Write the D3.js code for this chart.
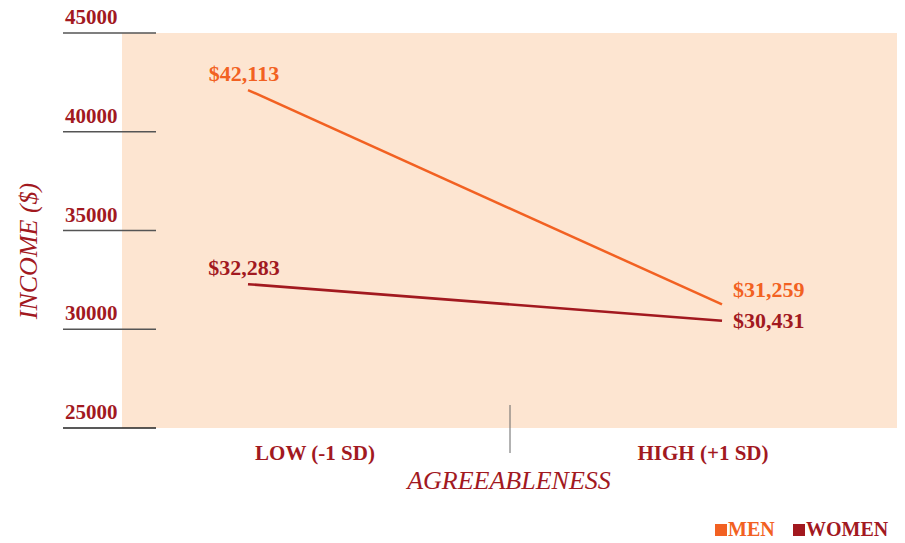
<!DOCTYPE html>
<html>
<head>
<meta charset="utf-8">
<script src="https://cdn.jsdelivr.net/npm/d3@7"></script>
<style>
  body { margin: 0; background: #fff; }
  text { font-family: "Liberation Serif", "Times New Roman", serif; }
</style>
</head>
<body>
<script>
// chart data
var categories = ['LOW (-1 SD)', 'HIGH (+1 SD)'];
var series = ['MEN', 'WOMEN'];
var menValues = [42113, 31259];
var womenValues = [32283, 30431];
var yTicks = [25000, 30000, 35000, 40000, 45000];

var width = 905,
    height = 543;

var colors = { MEN: '#f26122', WOMEN: '#a2191f' };
var red = '#a2191f';

var svg = d3.select('body')
  .append('svg')
  .attr('width', width)
  .attr('height', height);

// y scale: 25000 at bottom of shaded area, 45000 at top
var y = d3.scaleLinear()
  .domain([25000, 45000])
  .range([428, 33]);

// x positions of the line ends and of the category labels
var xLine = d3.scalePoint().domain(categories).range([248, 722]);
var xLabel = d3.scalePoint().domain(categories).range([315, 703]);

// shaded plot area
svg.append('rect')
  .attr('x', 122)
  .attr('y', y(45000))
  .attr('width', 897 - 122)
  .attr('height', y(25000) - y(45000))
  .attr('fill', '#fde5d1');

// y ticks: line with label sitting on it
var tick = svg.selectAll('.ytick')
  .data(yTicks)
  .enter().append('g')
  .attr('class', 'ytick')
  .attr('transform', function(d) { return 'translate(0,' + y(d) + ')'; });

tick.append('line')
  .attr('x1', 63)
  .attr('x2', 156)
  .attr('stroke', function(d) { return d === 25000 ? '#222' : '#555'; })
  .attr('stroke-width', 1.3);

tick.append('text')
  .attr('x', 65)
  .attr('y', -9)
  .attr('fill', red)
  .attr('font-size', 21)
  .attr('font-weight', 'bold')
  .text(function(d) { return d; });

// y axis title
svg.append('text')
  .attr('transform', 'translate(37,251) rotate(-90)')
  .attr('text-anchor', 'middle')
  .attr('fill', red)
  .attr('font-size', 26)
  .attr('font-style', 'italic')
  .text('INCOME ($)');

// x category labels
svg.selectAll('.xlabel')
  .data(categories)
  .enter().append('text')
  .attr('class', 'xlabel')
  .attr('x', function(d) { return xLabel(d); })
  .attr('y', 460)
  .attr('text-anchor', 'middle')
  .attr('fill', red)
  .attr('font-size', 21)
  .attr('font-weight', 'bold')
  .text(function(d) { return d; });

// divider tick between categories
svg.append('line')
  .attr('x1', 510).attr('x2', 510)
  .attr('y1', 405).attr('y2', 453)
  .attr('stroke', '#666')
  .attr('stroke-width', 1);

// x axis title
svg.append('text')
  .attr('x', 509)
  .attr('y', 489)
  .attr('text-anchor', 'middle')
  .attr('fill', red)
  .attr('font-size', 26)
  .attr('font-style', 'italic')
  .text('AGREEABLENESS');

// lines
var data = [
  { name: 'MEN', values: menValues },
  { name: 'WOMEN', values: womenValues }
];

var line = d3.line()
  .x(function(d, i) { return xLine(categories[i]); })
  .y(function(d) { return y(d); });

svg.selectAll('.series')
  .data(data)
  .enter().append('path')
  .attr('class', 'series')
  .attr('d', function(d) { return line(d.values); })
  .attr('fill', 'none')
  .attr('stroke', function(d) { return colors[d.name]; })
  .attr('stroke-width', 2.5);

// value labels
var fmt = d3.format('$,');

// left end: label above the point
svg.selectAll('.lowlabel')
  .data(data)
  .enter().append('text')
  .attr('class', 'lowlabel')
  .attr('x', xLine(categories[0]) - 4)
  .attr('y', function(d) { return y(d.values[0]) - 9; })
  .attr('text-anchor', 'middle')
  .attr('fill', function(d) { return colors[d.name]; })
  .attr('font-size', 22)
  .attr('font-weight', 'bold')
  .text(function(d) { return fmt(d.values[0]); });

// right end: label to the right of the point
svg.selectAll('.highlabel')
  .data(data)
  .enter().append('text')
  .attr('class', 'highlabel')
  .attr('x', xLine(categories[1]) + 11)
  .attr('y', function(d, i) { return i === 0 ? 297 : 328; })
  .attr('fill', function(d) { return colors[d.name]; })
  .attr('font-size', 22)
  .attr('font-weight', 'bold')
  .text(function(d) { return fmt(d.values[1]); });

// legend
var legendX = [715, 793];
var legend = svg.selectAll('.legend')
  .data(series)
  .enter().append('g')
  .attr('class', 'legend')
  .attr('transform', function(d, i) { return 'translate(' + legendX[i] + ',536)'; });

legend.append('rect')
  .attr('x', 0)
  .attr('y', -12)
  .attr('width', 12)
  .attr('height', 12)
  .attr('fill', function(d) { return colors[d]; });

legend.append('text')
  .attr('x', 13)
  .attr('y', 0)
  .attr('fill', function(d) { return colors[d]; })
  .attr('font-size', 20)
  .attr('font-weight', 'bold')
  .text(function(d) { return d; });
</script>
</body>
</html>
